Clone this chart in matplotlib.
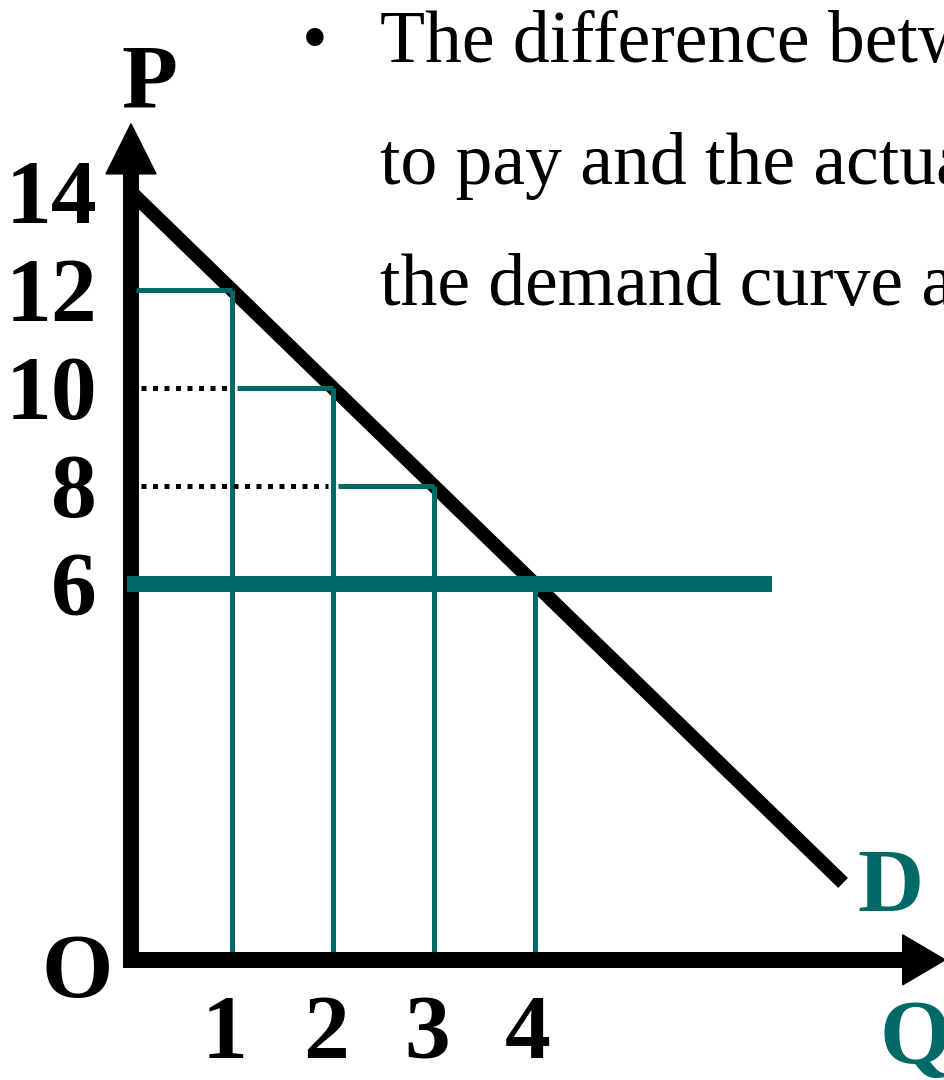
#!/usr/bin/env python3
"""
Consumer surplus diagram: step areas under a linear demand curve
above a market price of 6.
"""

import matplotlib
matplotlib.use("Agg")
import matplotlib.pyplot as plt
from matplotlib.patches import Polygon

# Demand curve P = 14 - 2Q
DEMAND_INTERCEPT = 14
DEMAND_SLOPE = -2
DEMAND_Q_END = 7.05

MARKET_PRICE = 6
quantities = [1, 2, 3, 4]
prices = [12, 10, 8, 6]

price_ticks = [14, 12, 10, 8, 6]
quantity_ticks = [1, 2, 3, 4]

body_lines = [
    "The difference between",
    "to pay and the actual",
    "the demand curve and",
]

TEAL = "#006A66"
SERIF = "Liberation Serif"

W, H = 945, 1080
AXIS_P = -1.67          # price level where the Q axis is drawn
Y_TOP = 15.39           # tip of the P axis arrow
X_RIGHT = 8.06          # tip of the Q axis arrow


def demand(q):
    return DEMAND_INTERCEPT + DEMAND_SLOPE * q


def fig_xy(x, y):
    return x / W, 1 - y / H


fig = plt.figure(figsize=(W / 100, H / 100), dpi=100)
fig.patch.set_facecolor("white")
ax = fig.add_axes([0, 0, 1, 1])
ax.set_xlim(-1.297, 8.059)
ax.set_ylim(-4.122, 17.918)
ax.axis("off")

# step rectangles (thin teal) and dotted guides to the P axis
prev_q = 0.0
for i, (q, p) in enumerate(zip(quantities, prices)):
    ax.plot([q, q], [AXIS_P, p], color=TEAL, lw=3.6, solid_capstyle="butt", zorder=4)
    if p > MARKET_PRICE:
        ax.plot([prev_q + 0.05, q], [p, p], color=TEAL, lw=3.6,
                solid_capstyle="butt", zorder=7)
        if i > 0:
            ax.plot([0.1, prev_q - 0.05], [p, p], color="black", lw=3.6,
                    linestyle=(0, (1.0, 1.3)), dash_capstyle="butt", zorder=4)
    prev_q = q

# demand curve
ax.plot([0, DEMAND_Q_END], [demand(0), demand(DEMAND_Q_END)],
        color="black", lw=10, solid_capstyle="butt", zorder=3)

# market price line
ax.plot([-0.04, 6.35], [MARKET_PRICE, MARKET_PRICE], color=TEAL, lw=11.5,
        solid_capstyle="butt", zorder=7)

# axes with arrow heads
head_len_y, head_half_w_y = 1.02, 0.2475
head_len_x, head_half_w_x = 0.42, 0.51
ax.plot([0, 0], [AXIS_P - 0.16, Y_TOP - head_len_y], color="black", lw=11.5,
        solid_capstyle="butt", zorder=6)
ax.add_patch(Polygon([[0, Y_TOP], [-head_half_w_y, Y_TOP - head_len_y],
                      [head_half_w_y, Y_TOP - head_len_y]],
                     closed=True, color="black", zorder=6))
ax.plot([-0.06, X_RIGHT - head_len_x], [AXIS_P, AXIS_P], color="black", lw=11.5,
        solid_capstyle="butt", zorder=6)
ax.add_patch(Polygon([[X_RIGHT, AXIS_P], [X_RIGHT - head_len_x, AXIS_P + head_half_w_x],
                      [X_RIGHT - head_len_x, AXIS_P - head_half_w_x]],
                     closed=True, color="black", zorder=6))

# tick labels
label_kw = dict(fontfamily=SERIF, fontweight="bold", fontsize=66)
for p in price_ticks:
    ax.annotate(str(p), xy=(-0.337, p), xytext=(0, -22), textcoords="offset points",
                ha="right", va="baseline", **label_kw)
for q in quantity_ticks:
    ax.text(q - 0.07, -3.67, str(q), ha="center", va="baseline", **label_kw)

ax.text(-0.535, -2.43, "O", ha="center", va="baseline", **label_kw)
ax.text(0.178, 15.73, "P", ha="center", va="baseline", **label_kw)
ax.text(7.515, -0.69, "D", ha="center", va="baseline", color=TEAL, **label_kw)
ax.text(7.76, -3.78, "Q", ha="center", va="baseline", color=TEAL, **label_kw)

# bullet text
fig.text(*fig_xy(315, 62), "\u2022", ha="center", va="baseline",
         fontfamily=SERIF, fontsize=53)
for k, line in enumerate(body_lines):
    fig.text(*fig_xy(380, 62 + 121.5 * k), line, ha="left", va="baseline",
             fontfamily=SERIF, fontsize=53)

fig.savefig("out.png", dpi=100, facecolor="white")
plt.close(fig)
